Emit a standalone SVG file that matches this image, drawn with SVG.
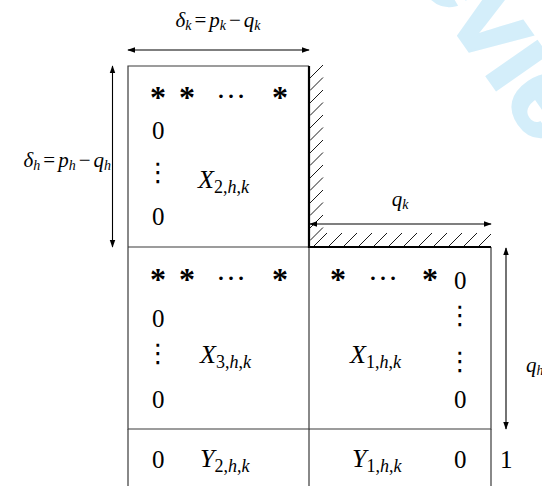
<svg xmlns="http://www.w3.org/2000/svg" width="542" height="486" viewBox="0 0 542 486">
<style>
.bx{fill:none;stroke:#3a3a3a;stroke-width:1.2}
.thick{stroke:#000;stroke-width:2.2;fill:none}
.hat{stroke:#000;stroke-width:0.9}
.dim{stroke:#000;stroke-width:1.1;fill:none;marker-start:url(#ah);marker-end:url(#ah)}
text{font-family:'Liberation Serif','Times New Roman',serif}
.num{font-size:25px;fill:#000}
.mi{font-style:italic;font-size:26px;fill:#000}
.sb{font-size:18px}
.up{font-style:normal}
.lab{font-style:italic;font-size:21px;fill:#000}
.ls{font-size:14px}
.op{font-size:32px;font-weight:bold;fill:#000;text-anchor:middle}
.dots{font-size:30px;fill:#000;text-anchor:middle}
.vd{font-family:'DejaVu Sans',sans-serif;font-size:26px;fill:#000;text-anchor:middle}
.wm{font-family:'Liberation Sans',sans-serif;font-weight:bold;font-size:115px;fill:#d4eefa;stroke:#d4eefa;stroke-width:3}
</style>
<defs>
<marker id="ah" viewBox="0 0 10 10" refX="9" refY="5" markerWidth="8" markerHeight="8" markerUnits="userSpaceOnUse" orient="auto-start-reverse">
<path d="M0,1.5 L10,5 L0,8.5 Z" fill="#000"/>
</marker>
</defs>
<rect width="542" height="486" fill="#fff"/>
<text class="wm" transform="translate(361.7,-102.8) rotate(55)">Review</text>

<g id="node-x2">
<path class="bx" d="M128,247 V66 H309 M128,247 H309"/>
<text class="op" x="158" y="108">*</text>
<text class="op" x="187" y="108">*</text>
<text class="dots" x="231" y="98">…</text>
<text class="op" x="280" y="108">*</text>
<text class="num" x="152" y="139">0</text>
<text class="vd" x="158" y="181">⋮</text>
<text class="mi" x="198" y="188">X<tspan class="sb up" dy="5">2,</tspan><tspan class="sb">h</tspan><tspan class="sb up">,</tspan><tspan class="sb">k</tspan></text>
<text class="num" x="152" y="225">0</text>
</g>

<g id="node-x3">
<path class="bx" d="M128,247 V429 H309 V247"/>
<text class="op" x="158" y="290">*</text>
<text class="op" x="187" y="290">*</text>
<text class="dots" x="231" y="280">…</text>
<text class="op" x="280" y="290">*</text>
<text class="num" x="152" y="327">0</text>
<text class="vd" x="158" y="362">⋮</text>
<text class="mi" x="200" y="363">X<tspan class="sb up" dy="5">3,</tspan><tspan class="sb">h</tspan><tspan class="sb up">,</tspan><tspan class="sb">k</tspan></text>
<text class="num" x="152" y="408">0</text>
</g>

<g id="node-x1">
<path class="bx" d="M309,429 H491 V247"/>
<text class="op" x="338" y="290">*</text>
<text class="dots" x="383" y="280">…</text>
<text class="op" x="430" y="290">*</text>
<text class="num" x="454" y="289">0</text>
<text class="vd" x="460" y="324">⋮</text>
<text class="vd" x="460" y="370">⋮</text>
<text class="mi" x="350" y="363">X<tspan class="sb up" dy="5">1,</tspan><tspan class="sb">h</tspan><tspan class="sb up">,</tspan><tspan class="sb">k</tspan></text>
<text class="num" x="454" y="408">0</text>
</g>

<g id="node-y2">
<path class="bx" d="M128,429 V486 M309,429 V486"/>
<text class="num" x="152" y="468">0</text>
<text class="mi" x="200" y="467">Y<tspan class="sb up" dy="5">2,</tspan><tspan class="sb">h</tspan><tspan class="sb up">,</tspan><tspan class="sb">k</tspan></text>
</g>

<g id="node-y1">
<path class="bx" d="M491,429 V486"/>
<text class="mi" x="352" y="467">Y<tspan class="sb up" dy="5">1,</tspan><tspan class="sb">h</tspan><tspan class="sb up">,</tspan><tspan class="sb">k</tspan></text>
<text class="num" x="454" y="468">0</text>
<text class="num" x="500" y="468">1</text>
</g>

<g id="hatching">
<path class="thick" d="M309,66 V247 H491"/>
<path class="hat" d="M310,78 L323,65 M310,90.5 L323,77.5 M310,103 L323,90 M310,115.5 L323,102.5 M310,128 L323,115 M310,140.5 L323,127.5 M310,153 L323,140 M310,165.5 L323,152.5 M310,178 L323,165 M310,190.5 L323,177.5 M310,203 L323,190 M310,215.5 L323,202.5 M310,228 L323,215 M310,240.5 L323,227.5"/>
<path class="hat" d="M313,247 L327,233 M328,247 L342,233 M343,247 L357,233 M358,247 L372,233 M373,247 L387,233 M388,247 L402,233 M403,247 L417,233 M418,247 L432,233 M433,247 L447,233 M448,247 L462,233 M463,247 L477,233 M478,247 L491,234"/>
</g>

<g id="connectors">
<line class="dim" x1="128" y1="50" x2="309" y2="50"/>
<line class="dim" x1="112.5" y1="66" x2="112.5" y2="247"/>
<line class="dim" x1="310" y1="224" x2="491" y2="224"/>
<line class="dim" x1="506" y1="248" x2="506" y2="429"/>
</g>

<g id="labels">
<text class="lab" x="218" y="27" text-anchor="middle">δ<tspan class="ls" dy="3">k</tspan><tspan class="up" dx="3" dy="-3">=</tspan><tspan dx="3">p</tspan><tspan class="ls" dy="3">k</tspan><tspan class="up" dx="3" dy="-3">−</tspan><tspan dx="3">q</tspan><tspan class="ls" dy="3">k</tspan></text>
<text class="lab" x="111" y="167" text-anchor="end">δ<tspan class="ls" dy="3">h</tspan><tspan class="up" dx="3" dy="-3">=</tspan><tspan dx="3">p</tspan><tspan class="ls" dy="3">h</tspan><tspan class="up" dx="3" dy="-3">−</tspan><tspan dx="3">q</tspan><tspan class="ls" dy="3">h</tspan></text>
<text class="lab" x="400" y="206" text-anchor="middle">q<tspan class="ls" dy="3">k</tspan></text>
<text class="lab" x="526" y="372">q<tspan class="ls" dy="3">h</tspan></text>
</g>
</svg>
